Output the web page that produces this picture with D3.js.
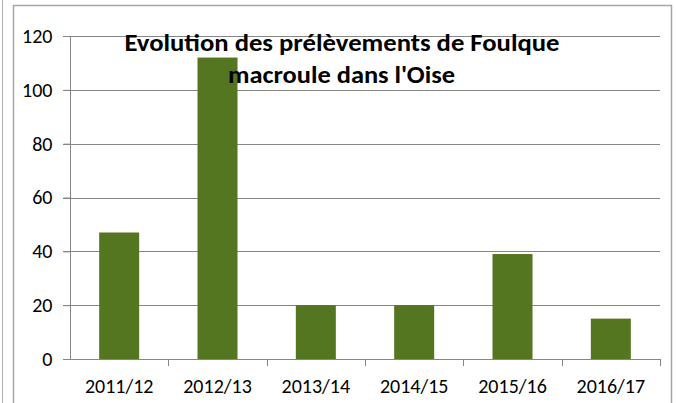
<!DOCTYPE html>
<html>
<head>
<meta charset="utf-8">
<script src="https://cdn.jsdelivr.net/npm/d3@7"></script>
<style>
  body { margin: 0; background: #fff; }
  svg { display: block; }
</style>
</head>
<body>
<svg width="676" height="403"></svg>
<script>
var seasons = ["2011/12", "2012/13", "2013/14", "2014/15", "2015/16", "2016/17"]
var prelevements = [47, 112, 20, 20, 39, 15]
var yTicks = [0, 20, 40, 60, 80, 100, 120]
var titleLines = ["Evolution des prélèvements de Foulque", "macroule dans l'Oise"]

function draw(){
  var svg = d3.select("svg")
  var plotLeft = 70, plotRight = 660, plotTop = 36, plotBottom = 359
  var font = "Carlito, 'Liberation Sans', sans-serif"

  // frame around chart area
  svg.append("line").attr("x1", 2.5).attr("x2", 2.5).attr("y1", 0).attr("y2", 403)
    .attr("stroke", "#b0b0b0").attr("stroke-width", 1)
  svg.append("path")
    .attr("d", "M13.5,403 V5.5 H671.5 V403")
    .attr("fill", "none").attr("stroke", "#a6a6a6").attr("stroke-width", 1.5)

  var xb = d3.scaleBand().domain(seasons).range([plotLeft, plotRight])
  var y = d3.scaleLinear().domain([0, 120]).range([plotBottom, plotTop])

  // gridlines
  svg.append("g").selectAll("line").data(yTicks.slice(1)).join("line")
    .attr("x1", plotLeft - 7).attr("x2", plotRight)
    .attr("y1", d => Math.round(y(d)) + 0.5).attr("y2", d => Math.round(y(d)) + 0.5)
    .attr("stroke", "#868686").attr("stroke-width", 1)

  // y axis
  var yAxis = svg.append("g").attr("transform", `translate(${plotLeft + 0.5},0)`)
    .call(d3.axisLeft(y).tickValues(yTicks).tickSize(7).tickPadding(11))
  yAxis.select(".domain").attr("stroke", "#868686").attr("d", `M0,${plotTop}V${plotBottom}`)
  yAxis.selectAll(".tick line").attr("stroke", "#868686")
  yAxis.selectAll("text").attr("font-family", font)
    .attr("font-size", 20).attr("fill", "#000")

  // bars
  svg.append("g").selectAll("rect").data(prelevements).join("rect")
    .attr("x", (d, i) => xb(seasons[i]) + xb.bandwidth() / 2 - 20)
    .attr("width", 40)
    .attr("y", d => y(d))
    .attr("height", d => y(0) - y(d))
    .attr("fill", "#557620")

  // x axis
  var xAxis = svg.append("g").attr("transform", `translate(0,${plotBottom + 0.5})`)
    .call(d3.axisBottom(xb).tickSize(0).tickPadding(19))
  xAxis.select(".domain").attr("stroke", "#868686").attr("d", `M${plotLeft - 7},0H${plotRight}`)
  xAxis.selectAll("text").attr("font-family", font)
    .attr("font-size", 20).attr("fill", "#000")
  svg.append("g").selectAll("line").data(seasons).join("line")
    .attr("x1", (d, i) => Math.round(plotLeft + xb.step() * (i + 1)) + 0.5)
    .attr("x2", (d, i) => Math.round(plotLeft + xb.step() * (i + 1)) + 0.5)
    .attr("y1", plotBottom).attr("y2", plotBottom + 7)
    .attr("stroke", "#868686")

  // title
  svg.append("text").attr("x", 342).attr("y", 51).attr("text-anchor", "middle")
    .attr("font-family", font).attr("font-weight", "bold")
    .attr("font-size", 24).attr("textLength", 435).attr("lengthAdjust", "spacingAndGlyphs")
    .text(titleLines[0])
  svg.append("text").attr("x", 341.5).attr("y", 83).attr("text-anchor", "middle")
    .attr("font-family", font).attr("font-weight", "bold")
    .attr("font-size", 24).attr("textLength", 227).attr("lengthAdjust", "spacingAndGlyphs")
    .text(titleLines[1])
}
draw()
</script>
</body>
</html>
